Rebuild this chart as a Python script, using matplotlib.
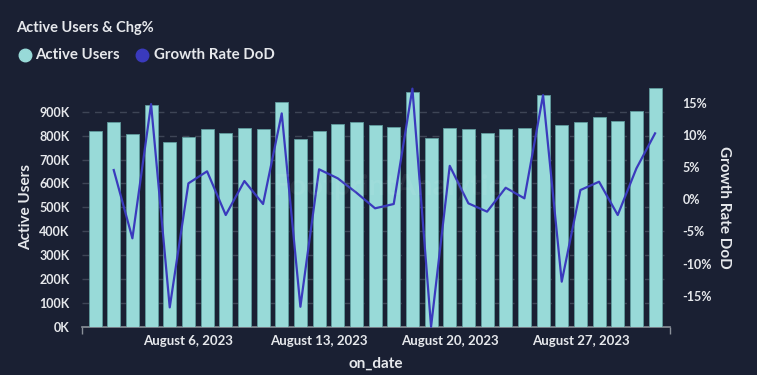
"""Active Users & Chg% -- daily active users (bars) with day-over-day growth (line)."""
import matplotlib
matplotlib.use("Agg")
import matplotlib.pyplot as plt
import matplotlib.dates as mdates
import numpy as np
import pandas as pd
from matplotlib.ticker import FuncFormatter, FixedLocator

# August 2023, one bar per day
DATES = pd.date_range("2023-08-01", periods=31, freq="D")
ACTIVE_USERS = [820, 858, 806, 929, 774, 795, 827, 812, 831, 827,
                941, 785, 820, 849, 858, 844, 837, 983, 791, 833,
                827, 812, 827, 833, 971, 845, 858, 879, 861, 904, 999]  # thousands
GROWTH_DOD = [np.nan, 4.55, -6.06, 14.8, -16.8, 2.48, 4.35, -2.44, 2.84, -0.73,
              13.35, -16.7, 4.66, 3.26, 1.03, -1.4, -0.73, 17.2, -19.8, 5.2,
              -0.63, -1.92, 1.8, 0.15, 16.2, -12.8, 1.44, 2.73, -2.44, 4.8, 10.25]  # %
DATE_TICKS = ["2023-08-06", "2023-08-13", "2023-08-20", "2023-08-27"]

BG = "#1a2033"
BAR = "#98dad8"
BAR_EDGE = "#5f9c9e"
LINE = "#3a3abd"
TEXT = "#e6e8ec"
GRID = "#3e4556"

plt.rcParams["font.family"] = ["Lato", "DejaVu Sans"]
plt.rcParams["font.weight"] = "bold"

W, H = 757, 375
fig = plt.figure(figsize=(W / 100, H / 100), dpi=100, facecolor=BG)
ax = fig.add_axes([82 / W, 1 - 326.7 / H, (670 - 82) / W, (326.7 - 88) / H])
ax.set_facecolor(BG)

x = mdates.date2num(DATES.to_pydatetime())
users = np.array(ACTIVE_USERS) * 1000

ax.bar(x, users, width=0.7, color=BAR, edgecolor=BAR_EDGE, linewidth=0.6, zorder=3)
ax.set_ylim(0, 1_000_000)
ax.set_xlim(x[0] - 0.70, x[-1] + 0.80)
ax.yaxis.set_major_locator(FixedLocator(np.arange(0, 900_001, 100_000)))
ax.yaxis.set_major_formatter(FuncFormatter(lambda v, _: f"{int(v / 1000)}K"))
ax.grid(axis="y", color=GRID, linestyle=(0, (5, 4)), linewidth=1.0, zorder=0)

ax.xaxis.set_major_locator(FixedLocator(mdates.date2num(pd.to_datetime(DATE_TICKS).to_pydatetime())))
ax.xaxis.set_major_formatter(mdates.DateFormatter("%B %-d, %Y"))
ax.xaxis.set_minor_locator(FixedLocator(ax.get_xlim()))
ax.tick_params(axis="x", which="major", length=0, pad=6, colors=TEXT, labelsize=9.5)
ax.tick_params(axis="x", which="minor", length=5, color="#8a9099", width=1)
ax.tick_params(axis="y", length=0, pad=9, colors=TEXT, labelsize=9)
for lbl in ax.get_xticklabels() + ax.get_yticklabels():
    lbl.set_fontweight("bold")
for s in ("top", "left", "right"):
    ax.spines[s].set_visible(False)
ax.spines["bottom"].set_color("#8a9099")
ax.spines["bottom"].set_linewidth(1.2)

ax.set_ylabel("Active Users", color=TEXT, fontsize=11, fontweight="bold", labelpad=4)
ax.set_xlabel("on_date", color=TEXT, fontsize=11, fontweight="bold", labelpad=7)

ax2 = ax.twinx()
ax2.plot(x, GROWTH_DOD, color=LINE, linewidth=1.6, zorder=5, clip_on=False)
ax2.set_ylim(-19.8, 17.3)
ax2.yaxis.set_major_locator(FixedLocator([-15, -10, -5, 0, 5, 10, 15]))
ax2.yaxis.set_major_formatter(FuncFormatter(lambda v, _: f"{int(v)}%"))
ax2.tick_params(axis="y", length=0, pad=9, colors=TEXT, labelsize=9)
for lbl in ax2.get_yticklabels():
    lbl.set_fontweight("bold")
for s in ax2.spines.values():
    s.set_visible(False)
ax2.set_ylabel("Growth Rate DoD", color=TEXT, fontsize=11, fontweight="bold",
               rotation=270, labelpad=14)

# faint watermark
fig.text(395 / W, 1 - 187 / H, "FootprintAnalytics", color="#ffffff", alpha=0.06,
         fontsize=21, ha="center", va="center", zorder=10)

# title and legend
fig.text(16 / W, 1 - 28 / H, "Active Users & Chg%", color=TEXT, fontsize=10.5,
         fontweight="bold", ha="left", va="center")
fig.lines.append(plt.Line2D([25 / W], [1 - 55 / H], marker="o", markersize=9,
                            color=BAR, transform=fig.transFigure))
fig.lines.append(plt.Line2D([142 / W], [1 - 55 / H], marker="o", markersize=9,
                            color=LINE, transform=fig.transFigure))
fig.text(35 / W, 1 - 55 / H, "Active Users", color=TEXT, fontsize=10.8,
         fontweight="bold", ha="left", va="center")
fig.text(154 / W, 1 - 55 / H, "Growth Rate DoD", color=TEXT, fontsize=10.8,
         fontweight="bold", ha="left", va="center")

fig.savefig("out.png", dpi=100, facecolor=BG)
